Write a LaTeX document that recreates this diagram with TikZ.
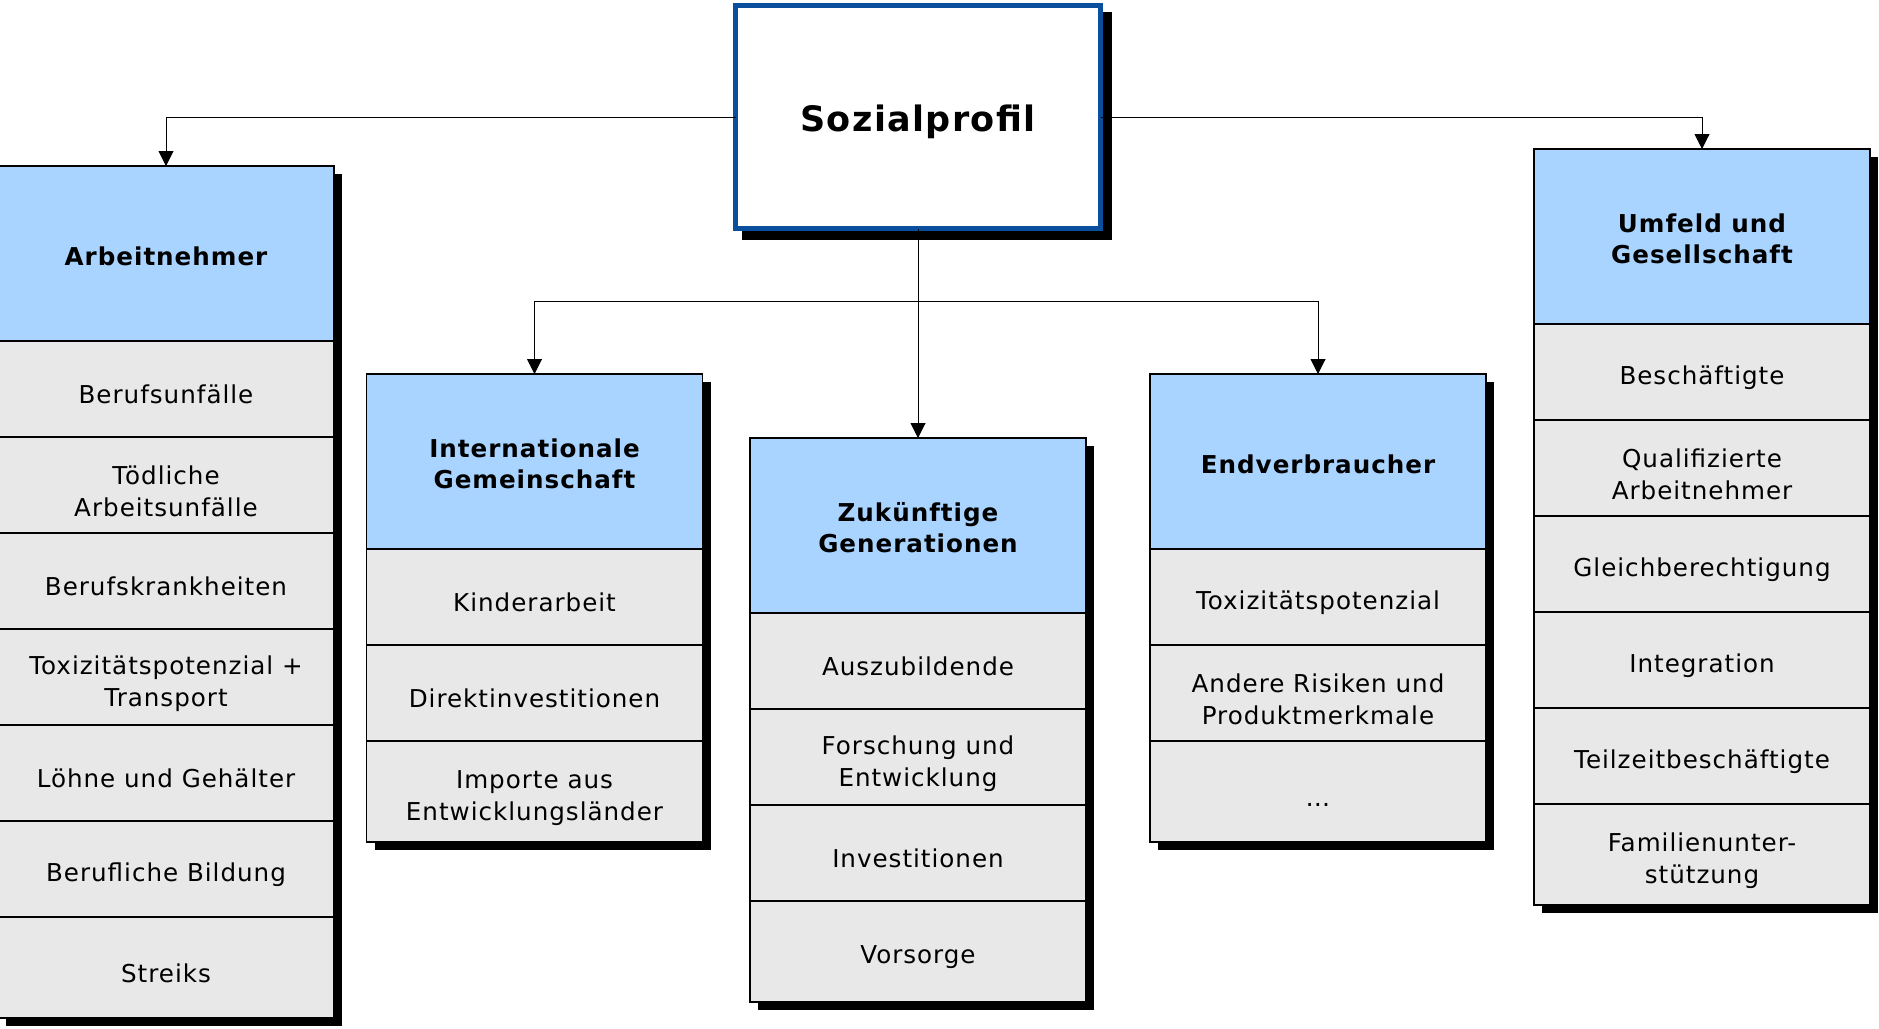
\documentclass[tikz,border=0pt]{standalone}
\usepackage{fontspec}
\setmainfont[LetterSpace=4]{DejaVu Sans}
\usepackage{xcolor}
\usetikzlibrary{arrows.meta,positioning,fit,backgrounds}
\definecolor{frame}{HTML}{0A4F9E}
\definecolor{headL}{HTML}{A8D4FF}
\definecolor{rowL}{HTML}{E8E8E8}
\tikzset{
  box/.style      ={draw=black, line width=.75pt, align=center, outer sep=0pt, inner sep=2pt,
                    minimum width=168pt, text=black},
  head/.style     ={box, fill=headL, minimum height=87.5pt, font=\fontsize{12.3}{15.8}\selectfont\bfseries,
                    execute at begin node=\rule{0pt}{12.5pt}},
  item/.style     ={box, fill=rowL, minimum height=48pt, font=\fontsize{12.3}{16.1}\selectfont,
                    execute at begin node=\rule{0pt}{15pt}},
  itemlast/.style ={item, minimum height=50.5pt},
  lines2/.style   ={execute at begin node=\rule{0pt}{#1}},
  root/.style     ={draw=frame, line width=2.5pt, fill=white, outer sep=0pt, minimum width=182.5pt,
                    minimum height=111.5pt, font=\fontsize{17.5}{20}\selectfont\bfseries,
                    execute at begin node=\rule{0pt}{18pt}},
  shadowbox/.style={fill=black, inner sep=0pt},
  conn/.style     ={-{Triangle[width=7.5pt,length=7.5pt]}, line width=.5pt, draw=black},
}
\begin{document}
\begin{tikzpicture}[x=0.5pt, y=-0.5pt, node distance=0pt]
  \useasboundingbox (0,0) rectangle (1879,1028);
  % root
  \node[root] (top) at (918,117) {Sozialprofil};
  % Arbeitnehmer
  \node[head, anchor=north] (arb) at (166,166) {Arbeitnehmer};
  \node[item, below=of arb] (arb1) {Berufsunfälle};
  \node[item, lines2=32pt, below=of arb1] (arb2) {Tödliche\\Arbeitsunfälle};
  \node[item, below=of arb2] (arb3) {Berufskrankheiten};
  \node[item, lines2=32pt, below=of arb3] (arb4) {Toxizitätspotenzial +\\Transport};
  \node[item, below=of arb4] (arb5) {Löhne und Gehälter};
  \node[item, below=of arb5] (arb6) {Berufliche Bildung};
  \node[itemlast, below=of arb6] (arb7) {Streiks};
  % Internationale Gemeinschaft
  \node[head, lines2=27.5pt, anchor=north] (ig) at (534.5,374) {Internationale\\Gemeinschaft};
  \node[item, below=of ig] (ig1) {Kinderarbeit};
  \node[item, below=of ig1] (ig2) {Direktinvestitionen};
  \node[itemlast, lines2=32pt, below=of ig2] (ig3) {Importe aus\\Entwicklungsländer};
  % Zukuenftige Generationen
  \node[head, lines2=27.5pt, anchor=north] (zg) at (918,438) {Zukünftige\\Generationen};
  \node[item, below=of zg] (zg1) {Auszubildende};
  \node[item, lines2=32pt, below=of zg1] (zg2) {Forschung und\\Entwicklung};
  \node[item, below=of zg2] (zg3) {Investitionen};
  \node[itemlast, below=of zg3] (zg4) {Vorsorge};
  % Endverbraucher
  \node[head, anchor=north] (ev) at (1318,374) {Endverbraucher};
  \node[item, below=of ev] (ev1) {Toxizitätspotenzial};
  \node[item, lines2=32pt, below=of ev1] (ev2) {Andere Risiken und\\Produktmerkmale};
  \node[itemlast, below=of ev2] (ev3) {\ldots};
  % Umfeld und Gesellschaft
  \node[head, lines2=27.5pt, anchor=north] (ug) at (1702,149) {Umfeld und\\Gesellschaft};
  \node[item, below=of ug] (ug1) {Beschäftigte};
  \node[item, lines2=32pt, below=of ug1] (ug2) {Qualifizierte\\Arbeitnehmer};
  \node[item, below=of ug2] (ug3) {Gleichberechtigung};
  \node[item, below=of ug3] (ug4) {Integration};
  \node[item, below=of ug4] (ug5) {Teilzeitbeschäftigte};
  \node[itemlast, lines2=32pt, below=of ug5] (ug6) {Familienunter-\\stützung};
  % shadows
  \begin{scope}[on background layer]
    \node[shadowbox, inner sep=1.25pt, fit=(top), xshift=4.5pt, yshift=-4.5pt]{};
    \node[shadowbox, fit=(arb)(arb7), xshift=4pt, yshift=-4pt]{};
    \node[shadowbox, fit=(ig)(ig3), xshift=4pt, yshift=-4pt]{};
    \node[shadowbox, fit=(zg)(zg4), xshift=4pt, yshift=-4pt]{};
    \node[shadowbox, fit=(ev)(ev3), xshift=4pt, yshift=-4pt]{};
    \node[shadowbox, fit=(ug)(ug6), xshift=4pt, yshift=-4pt]{};
  \end{scope}
  % connectors
  \coordinate (split) at (918,301);
  \draw[conn] (top.west) -| (arb.north);
  \draw[conn] (top.east) -| (ug.north);
  \draw[conn] (top.south) -- (zg.north);
  \draw[conn] (split) -| (ig.north);
  \draw[conn] (split) -| (ev.north);
\end{tikzpicture}
\end{document}
